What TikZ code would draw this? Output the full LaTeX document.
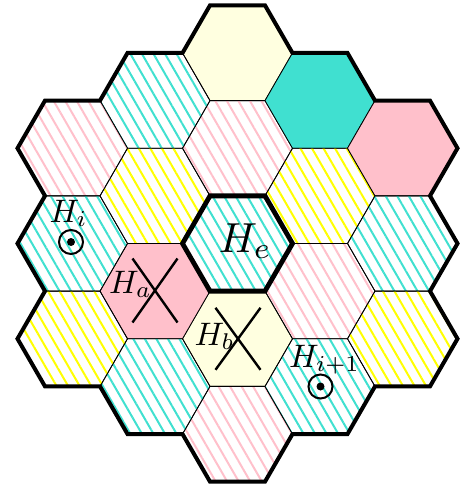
\documentclass[tikz,border=0pt]{standalone}
\usetikzlibrary{patterns.meta}
\definecolor{turq}{RGB}{64,224,208}
\definecolor{lyel}{RGB}{255,255,224}
\definecolor{pnk}{RGB}{255,192,203}
\definecolor{yel}{RGB}{255,255,0}
\tikzset{
  hexedge/.style={draw=black, line width=0.8pt, line join=miter},
  lysolid/.style={fill=lyel},
  tqsolid/.style={fill=turq},
  pksolid/.style={fill=pnk},
  hatchbase/.style={pattern={Lines[angle=-60,distance=10pt,line width=2pt]}},
  tqhatch/.style={hatchbase, pattern color=turq},
  pkhatch/.style={hatchbase, pattern color=pnk},
  yehatch/.style={hatchbase, pattern color=yel},
  outline/.style={draw=black, line width=4pt, line join=miter},
  centerhex/.style={draw=black, line width=4.8pt, line join=miter},
  crossline/.style={draw=black, line width=2.4pt},
  label/.style={inner sep=0pt, anchor=base west},
  target/.style={draw=black, line width=2pt, circle, minimum size=24pt, inner sep=0pt},
  targetdot/.style={fill=black, circle, minimum size=8pt, inner sep=0pt},
}
\begin{document}
\begin{tikzpicture}[x=1pt,y=-1pt]
\def\RR{55}
\def\hh{47.63}
\def\cx{237.5}
\def\cy{243.5}
\useasboundingbox (0,0) rectangle (461,488);
% hexagons
\foreach \qq/\rr/\st in {
  0/-2/lysolid, 0/-1/pkhatch, 0/0/tqhatch, 0/1/lysolid, 0/2/pkhatch,
  1/-2/tqsolid, 1/-1/yehatch, 1/0/pkhatch, 1/1/tqhatch,
  2/-2/pksolid, 2/-1/tqhatch, 2/0/yehatch,
  -1/-1/tqhatch, -1/0/yehatch, -1/1/pksolid, -1/2/tqhatch,
  -2/0/pkhatch, -2/1/tqhatch, -2/2/yehatch}
{
  \path[\st, hexedge, shift={({\cx+1.5*\RR*\qq},{\cy+2*\hh*(\rr+\qq/2)})}]
    (\RR,0) -- (\RR/2,\hh) -- (-\RR/2,\hh) -- (-\RR,0) -- (-\RR/2,-\hh) -- (\RR/2,-\hh) -- cycle;
}
% outer outline
\begin{scope}[shift={(\cx,\cy)}]
\path[outline]
 (-0.5*\RR,-5*\hh) -- (0.5*\RR,-5*\hh) -- (\RR,-4*\hh) -- (2*\RR,-4*\hh) -- (2.5*\RR,-3*\hh)
 -- (3.5*\RR,-3*\hh) -- (4*\RR,-2*\hh) -- (3.5*\RR,-\hh) -- (4*\RR,0) -- (3.5*\RR,\hh)
 -- (4*\RR,2*\hh) -- (3.5*\RR,3*\hh) -- (2.5*\RR,3*\hh) -- (2*\RR,4*\hh) -- (\RR,4*\hh)
 -- (0.5*\RR,5*\hh) -- (-0.5*\RR,5*\hh) -- (-\RR,4*\hh) -- (-2*\RR,4*\hh) -- (-2.5*\RR,3*\hh)
 -- (-3.5*\RR,3*\hh) -- (-4*\RR,2*\hh) -- (-3.5*\RR,\hh) -- (-4*\RR,0) -- (-3.5*\RR,-\hh)
 -- (-4*\RR,-2*\hh) -- (-3.5*\RR,-3*\hh) -- (-2.5*\RR,-3*\hh) -- (-2*\RR,-4*\hh) -- (-\RR,-4*\hh) -- cycle;
\path[centerhex]
 (\RR,0) -- (\RR/2,\hh) -- (-\RR/2,\hh) -- (-\RR,0) -- (-\RR/2,-\hh) -- (\RR/2,-\hh) -- cycle;
\end{scope}
% hex centres of marked cells
\coordinate (ca) at (155,290.5);
\coordinate (cb) at (238,338.8);
\coordinate (ci) at (71,242);
\coordinate (cj) at (320.5,386.5);
% crosses
\draw[crossline] ([shift={(-22.5,-32)}]ca) -- ([shift={(22.5,32)}]ca);
\draw[crossline] ([shift={(22.5,-32)}]ca) -- ([shift={(-22.5,32)}]ca);
\draw[crossline] ([shift={(-22.5,-31)}]cb) -- ([shift={(22.5,31)}]cb);
\draw[crossline] ([shift={(22.5,-31)}]cb) -- ([shift={(-22.5,31)}]cb);
% targets
\node[target] (ti) at (ci) {};
\node[targetdot] (tid) at (ci) {};
\node[target] (tj) at (cj) {};
\node[targetdot] (tjd) at (cj) {};
% labels
\node[label, scale=4.2] (le) at (218,252) {$H_e$};
\node[label, scale=3.25] (la) at (108.5,293) {$H_a$};
\node[label, scale=3.25] (lb) at (194,345) {$H_b$};
\node[label, scale=3.25] (li) at (49,222) {$H_i$};
\node[label, scale=3.25] (lj) at (288.5,367) {$H_{i+1}$};
\end{tikzpicture}
\end{document}
